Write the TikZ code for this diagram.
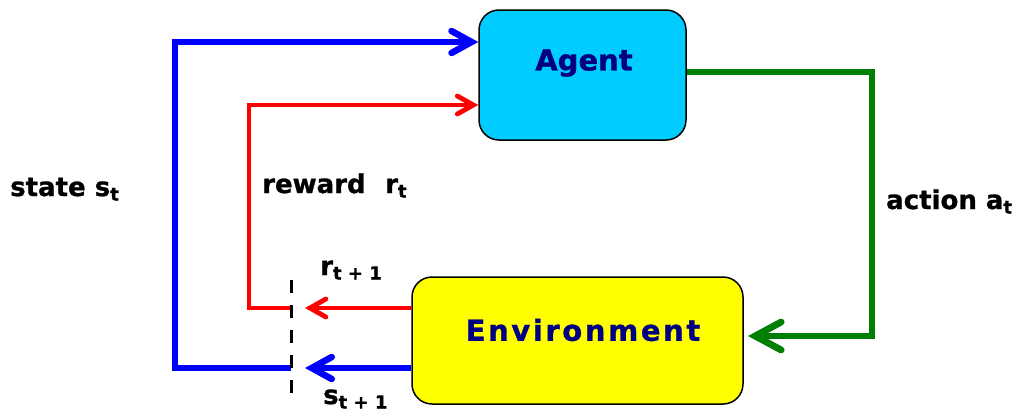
\documentclass[tikz,border=0pt]{standalone}
\usepackage{fontspec}
\setmainfont{DejaVu Sans}
\newfontfamily\heavyfont{DejaVu Sans Bold}[FakeBold=1]
\usetikzlibrary{arrows.meta}
\definecolor{agentfill}{RGB}{0,204,255}
\definecolor{envfill}{RGB}{255,255,0}
\definecolor{navytext}{RGB}{0,0,128}
\definecolor{myblue}{RGB}{0,0,255}
\definecolor{myred}{RGB}{255,0,0}
\definecolor{mygreen}{RGB}{0,128,0}
\newcommand{\subl}[2]{#1\raisebox{-4.5pt}{\fontsize{18}{18}\selectfont #2}}
\begin{document}
\begin{tikzpicture}[x=1pt,y=-1pt,
  box/.style={draw=black, line width=1.5pt, rounded corners=20pt, inner sep=0pt},
  boxtext/.style={font=\fontsize{29}{29}\selectfont\heavyfont, text=navytext, inner sep=0pt},
  lab/.style={font=\fontsize{26}{26}\selectfont\heavyfont, anchor=base west, inner sep=0pt},
  bluel/.style={draw=myblue, line width=6.5pt},
  redl/.style={draw=myred, line width=4.8pt},
  greenl/.style={draw=mygreen, line width=6.8pt},
  barbb/.style={-{Straight Barb[length=20pt, width=22pt, line width=6.5pt, line cap=round]}},
  barbr/.style={-{Straight Barb[length=16pt, width=18pt, line width=4.8pt, line cap=round]}},
  barbg/.style={-{Straight Barb[length=26pt, width=28pt, line width=6.8pt, line cap=round]}}
]
\useasboundingbox (0,0) rectangle (1022,413);
% boxes
\node[box, fill=agentfill, minimum width=207pt, minimum height=130pt] (agent) at (582.5,75) {};
\node[box, fill=envfill, minimum width=331pt, minimum height=127pt] (env) at (577.5,340.5) {};
\node[boxtext] (agenttext) at (584,63) {Agent};
\node[boxtext, font=\fontsize{29}{29}\selectfont\heavyfont\addfontfeature{LetterSpace=9}] (envtext) at (583,330) {Environment};
% coordinates
\coordinate (dtop) at (291,280);
\coordinate (dbot) at (291,398);
\coordinate (rjoin) at (291,308);
\coordinate (sjoin) at (291,368);
\coordinate (rtip) at (305,308);
\coordinate (stip) at (305,368);
\coordinate (bcorner) at (175,42);
\coordinate (rcorner) at (249,105);
\coordinate (gcorner) at (872,72);
\coordinate (gtip) at (748,336);
% connectors
\draw[bluel, barbb] (sjoin) -| (bcorner) -- (bcorner -| agent.west);
\draw[redl, barbr] (rjoin) -| (rcorner) -- (rcorner -| agent.west);
\draw[greenl, barbg] (gcorner -| agent.east) -- (gcorner) |- (gtip);
\draw[redl, barbr] (rjoin -| env.west) -- (rtip);
\draw[bluel, barbb] (sjoin -| env.west) -- (stip);
\draw[black, line width=3pt, dash pattern=on 13pt off 12pt] (dtop) -- (dbot);
% labels
\node[lab] (lstate) at (10,196) {state \subl{s}{t}};
\node[lab] (lreward) at (262,193) {reward\hspace{0.75em}\subl{r}{t}};
\node[lab] (laction) at (886,209) {action \subl{a}{t}};
\node[lab] (lr1) at (320,275) {\subl{r}{t + 1}};
\node[lab] (ls1) at (323,404) {\subl{s}{t + 1}};
\end{tikzpicture}
\end{document}
